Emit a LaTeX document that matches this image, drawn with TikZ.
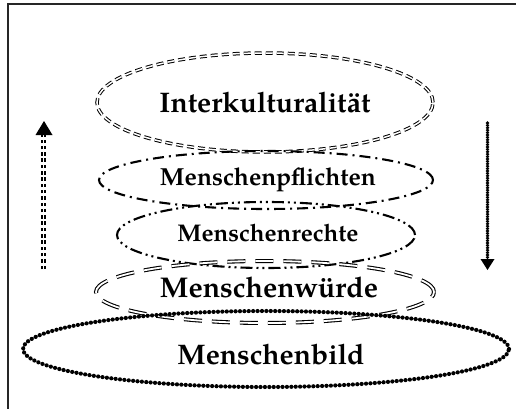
\documentclass[tikz,border=0pt]{standalone}
\usepackage{fontspec}
\setmainfont{TeX Gyre Pagella}
\usepackage{graphicx}
\usetikzlibrary{shapes.geometric}
\tikzset{
  ell/.style={ellipse, inner sep=0pt, draw=black},
  dblDash/.style={draw=black, line width=1pt, double=white, double distance=1.5pt, dash pattern=on 7pt off 4pt},
  dashDot/.style={draw=black, line width=2.1pt, dash pattern=on 11pt off 5pt on 2pt off 5pt},
  dashDotDot/.style={draw=black, line width=2.1pt, dash pattern=on 12pt off 4pt on 2pt off 4pt on 2pt off 4pt},
  dblLong/.style={draw=black, line width=1.1pt, double=white, double distance=1.8pt, dash pattern=on 18pt off 10pt},
  bigDots/.style={draw=black, line width=4.2pt, line cap=round, dash pattern=on 0pt off 4.4pt},
  lbl/.style={inner sep=0pt, font=\bfseries},
  frameline/.style={draw=black!85, line width=1.3pt}
}
\begin{document}
\begin{tikzpicture}[x=1pt,y=-1pt]
\useasboundingbox (0,0) rectangle (516,409);
% frame
\coordinate (fl) at (8,409);
\coordinate (ftl) at (8,4);
\coordinate (fr) at (516,4);
\draw[frameline] (fl) -- (ftl) -- (fr);
% ellipses
\node[ell, dblDash, minimum width=336pt, minimum height=99pt] (e1) at (265,102.5) {};
\node[ell, dashDot, minimum width=334pt, minimum height=58pt] (e2) at (266,180) {};
\node[ell, dashDotDot, minimum width=298pt, minimum height=66pt] (e3) at (266,235) {};
\node[ell, dblLong, minimum width=338pt, minimum height=62pt] (e4) at (265,292) {};
\node[ell, bigDots, minimum width=486pt, minimum height=76pt] (e5) at (266,349) {};
% labels
\node[lbl] (t1) at (265,103) {\resizebox{211pt}{!}{Interkulturalität}};
\node[lbl] (t2) at (268,180) {\resizebox{216pt}{!}{Menschenpflichten}};
\node[lbl] (t3) at (268,233) {\resizebox{181pt}{!}{Menschenrechte}};
\node[lbl] (t4) at (269,287) {\resizebox{218pt}{!}{Menschenwürde}};
\node[lbl] (t5) at (271,355) {\resizebox{187pt}{!}{Menschenbild}};
% up arrow
\coordinate (ua0) at (43.5,269);
\coordinate (ua1) at (43.5,134);
\coordinate (uat) at (44,121);
\draw[draw=black, line width=1.3pt, double=white, double distance=1.6pt, dash pattern=on 3.5pt off 2.8pt] (ua0) -- (ua1);
\fill[black] (uat) -- (52.5,135) -- (35.5,135) -- cycle;
% down arrow
\coordinate (da0) at (487.5,123);
\coordinate (da1) at (487.5,258);
\coordinate (dat) at (487.5,270);
\draw[draw=black, line width=3.6pt, line cap=round, dash pattern=on 0pt off 2.4pt] (da0) -- (da1);
\fill[black] (dat) -- (494.5,259) -- (480.5,259) -- cycle;
\end{tikzpicture}
\end{document}
